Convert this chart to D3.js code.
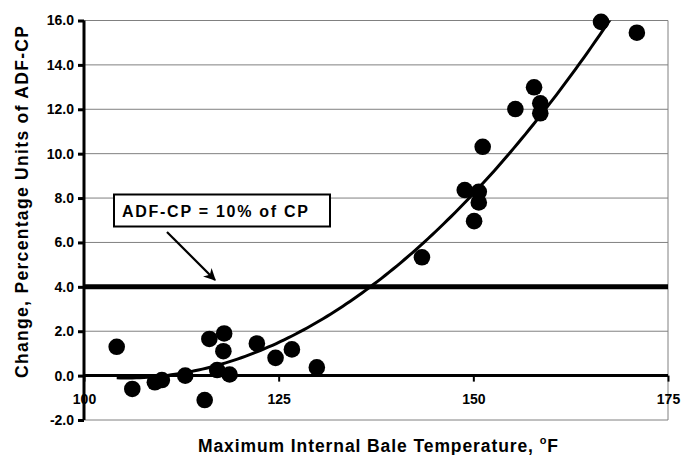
<!DOCTYPE html>
<html>
<head>
<meta charset="utf-8">
<script src="https://cdn.jsdelivr.net/npm/d3@7"></script>
<style>
  body { margin: 0; background: #fff; }
  svg { font-family: "Liberation Sans", Arial, sans-serif; font-weight: bold; }
</style>
</head>
<body>
<svg width="682" height="455"></svg>
<script>
// bale temperature (F) and change in ADF-CP
var tempF = [104.2, 106.2, 109.1, 110.0, 113.0, 115.5, 116.1, 118.0, 117.9, 117.1,
             118.7, 122.2, 124.6, 126.7, 129.9, 143.4, 148.9, 150.7, 150.7, 150.1,
             151.2, 155.4, 157.8, 158.6, 158.6, 166.4, 171.0];
var changeADF = [1.3, -0.6, -0.3, -0.2, 0.0, -1.1, 1.65, 1.9, 1.1, 0.25,
                 0.05, 1.45, 0.8, 1.18, 0.37, 5.33, 8.36, 8.28, 7.8, 6.96,
                 10.31, 12.01, 12.99, 12.27, 11.82, 15.94, 15.45];
var xTicks = [100, 125, 150, 175];
var yTicks = [-2, 0, 2, 4, 6, 8, 10, 12, 14, 16];
var limitLine = 4;   // ADF-CP = 10% of CP
var noteText = "ADF-CP = 10% of CP";

var svg = d3.select("svg");
var pLeft = 84, pRight = 668, pTop = 20.5, pBottom = 420;

var x = d3.scaleLinear().domain([100, 175]).range([pLeft, pRight]);
var y = d3.scaleLinear().domain([-2, 16]).range([pBottom, pTop]);

// gridlines
svg.append("g").selectAll("line")
    .data(yTicks)
  .enter().append("line")
    .attr("x1", pLeft).attr("x2", pRight)
    .attr("y1", function(d) { return y(d); })
    .attr("y2", function(d) { return y(d); })
    .attr("stroke", "#808080").attr("stroke-width", 1);

// right border of plot area
svg.append("line")
    .attr("x1", pRight).attr("x2", pRight)
    .attr("y1", y(16)).attr("y2", y(-2))
    .attr("stroke", "#808080");

// limit line at 4.0
svg.append("line")
    .attr("x1", pLeft).attr("x2", pRight)
    .attr("y1", y(limitLine)).attr("y2", y(limitLine))
    .attr("stroke", "#000").attr("stroke-width", 5);

// y axis
var yAxis = svg.append("g")
    .attr("transform", "translate(" + pLeft + ",0)")
    .call(d3.axisLeft(y).tickValues(yTicks)
          .tickFormat(function(d) { return d.toFixed(1); })
          .tickSize(6).tickPadding(4));
yAxis.select(".domain").attr("stroke-width", 3).attr("d", "M0," + y(16) + "V" + y(-2));
yAxis.selectAll(".tick line").attr("stroke-width", 3);
yAxis.selectAll("text").attr("font-size", 14).attr("font-family", null).attr("fill", "#000");

// x axis on the zero line
var xAxis = svg.append("g")
    .attr("transform", "translate(0," + y(0) + ")")
    .call(d3.axisBottom(x).tickValues(xTicks).tickSize(6).tickPadding(12));
xAxis.select(".domain").attr("stroke-width", 3).attr("d", "M" + pLeft + ",0H" + pRight);
xAxis.selectAll(".tick line").attr("stroke-width", 2);
xAxis.selectAll("text").attr("font-size", 14).attr("font-family", null).attr("fill", "#000");

// 2nd order polynomial trendline (least squares)
function polyFit(xs, ys, order) {
  var n = order + 1, A = [], i, j, k;
  for (i = 0; i < n; i++) {
    A.push([]);
    for (j = 0; j <= n; j++) A[i].push(0);
  }
  xs.forEach(function(xv, p) {
    for (i = 0; i < n; i++) {
      for (j = 0; j < n; j++) A[i][j] += Math.pow(xv, i + j);
      A[i][n] += ys[p] * Math.pow(xv, i);
    }
  });
  for (i = 0; i < n; i++) {
    for (k = i + 1; k < n; k++) {
      var f = A[k][i] / A[i][i];
      for (j = i; j <= n; j++) A[k][j] -= f * A[i][j];
    }
  }
  var c = new Array(n);
  for (i = n - 1; i >= 0; i--) {
    var s = A[i][n];
    for (j = i + 1; j < n; j++) s -= A[i][j] * c[j];
    c[i] = s / A[i][i];
  }
  return c;
}
var xc = tempF.map(function(d) { return d - 100; });
var coef = polyFit(xc, changeADF, 2);
var xMin = d3.min(tempF), xMax = d3.max(tempF);
var fitPts = d3.range(xMin, xMax + 0.01, 0.5).map(function(t) {
  var u = t - 100;
  return [t, coef[0] + coef[1] * u + coef[2] * u * u];
});

svg.append("clipPath").attr("id", "plotClip")
  .append("rect").attr("x", pLeft).attr("y", pTop)
  .attr("width", pRight - pLeft).attr("height", pBottom - pTop);

svg.append("path")
    .datum(fitPts)
    .attr("clip-path", "url(#plotClip)")
    .attr("fill", "none").attr("stroke", "#000").attr("stroke-width", 3)
    .attr("d", d3.line()
        .x(function(d) { return x(d[0]); })
        .y(function(d) { return y(d[1]); }));

// data points
svg.append("g").selectAll("circle")
    .data(tempF)
  .enter().append("circle")
    .attr("cx", function(d) { return x(d); })
    .attr("cy", function(d, i) { return y(changeADF[i]); })
    .attr("r", 8.3)
    .attr("fill", "#000");

// annotation box + arrow
svg.append("defs").append("marker")
    .attr("id", "arrow")
    .attr("viewBox", "0 -5 10 10")
    .attr("refX", 9).attr("refY", 0)
    .attr("markerWidth", 5.5).attr("markerHeight", 5.5)
    .attr("orient", "auto")
  .append("path")
    .attr("d", "M0,-5L10,0L0,5L3,0Z")
    .attr("fill", "#000");

svg.append("rect")
    .attr("x", 114).attr("y", 194.5)
    .attr("width", 216).attr("height", 32)
    .attr("fill", "#fff").attr("stroke", "#000").attr("stroke-width", 2);
svg.append("text")
    .attr("x", 122).attr("y", 217)
    .attr("font-size", 16)
    .attr("textLength", 186).attr("lengthAdjust", "spacing")
    .text(noteText);
svg.append("line")
    .attr("x1", 167).attr("y1", 232)
    .attr("x2", 215).attr("y2", 280)
    .attr("stroke", "#000").attr("stroke-width", 2.2)
    .attr("marker-end", "url(#arrow)");

// axis titles
svg.append("text")
    .attr("transform", "translate(28,202) rotate(-90)")
    .attr("text-anchor", "middle")
    .attr("font-size", 17.5)
    .attr("textLength", 352).attr("lengthAdjust", "spacing")
    .text("Change, Percentage Units of ADF-CP");

var xt = svg.append("text")
    .attr("x", 378).attr("y", 452)
    .attr("text-anchor", "middle")
    .attr("font-size", 17.5)
    .attr("textLength", 360).attr("lengthAdjust", "spacing");
xt.append("tspan").text("Maximum Internal Bale Temperature, ");
xt.append("tspan").attr("font-size", 11).attr("dy", -8).text("o");
xt.append("tspan").attr("dy", 8).text("F");
</script>
</body>
</html>
